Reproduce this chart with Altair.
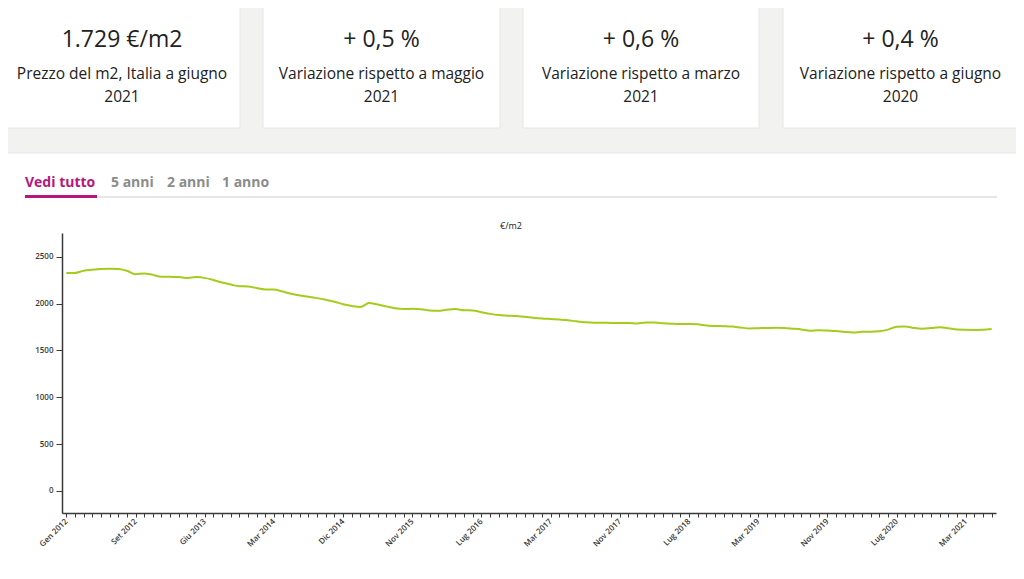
import altair as alt
import pandas as pd

# ---------------- data ----------------
prices = [
    2326, 2326, 2350, 2360, 2368, 2372, 2368, 2350, 2312, 2322,
    2306, 2286, 2285, 2284, 2273, 2283, 2274, 2251, 2224, 2203,
    2185, 2183, 2165, 2151, 2150, 2128, 2105, 2086, 2073, 2058,
    2040, 2020, 1993, 1975, 1963, 2005, 1990, 1970, 1950, 1942,
    1944, 1939, 1926, 1923, 1935, 1941, 1929, 1926, 1908, 1890,
    1877, 1871, 1866, 1858, 1849, 1841, 1835, 1829, 1822, 1810,
    1800, 1795, 1795, 1793, 1792, 1792, 1788, 1797, 1798, 1789,
    1784, 1781, 1781, 1778, 1766, 1761, 1758, 1754, 1744, 1735,
    1737, 1739, 1741, 1739, 1732, 1724, 1710, 1715, 1712, 1708,
    1697, 1691, 1698, 1699, 1705, 1722, 1752, 1755, 1740, 1732,
    1739, 1747, 1737, 1722, 1720, 1719, 1720, 1729,
]
tick_labels = [
    "Gen 2012", "Set 2012", "Giu 2013", "Mar 2014", "Dic 2014", "Nov 2015",
    "Lug 2016", "Mar 2017", "Nov 2017", "Lug 2018", "Mar 2019", "Nov 2019",
    "Lug 2020", "Mar 2021",
]
label_every = 8
y_ticks = [0, 500, 1000, 1500, 2000, 2500]

kpi_values = ["1.729 €/m2", "+ 0,5 %", "+ 0,6 %", "+ 0,4 %"]
kpi_line1 = [
    "Prezzo del m2, Italia a giugno",
    "Variazione rispetto a maggio",
    "Variazione rispetto a marzo",
    "Variazione rispetto a giugno",
]
kpi_line2 = ["2021", "2021", "2021", "2020"]
tabs = ["Vedi tutto", "5 anni", "2 anni", "1 anno"]
unit_title = "€/m2"

df = pd.DataFrame({"idx": list(range(len(prices))), "price": prices})

# ---------------- style ----------------
FONT = "Open Sans"
BG = "#f2f2f0"
CARD_STROKE = "#e6e6e3"
GREEN = "#a4cc1a"
MAGENTA = "#b8167c"
TAB_GRAY = "#8c8c8c"
TEXT = "#222222"
AXIS = "#3a3a3a"

W, H = 934, 280  # plot area


def box(x0, x1, y0, y1, fill, stroke=None):
    kw = dict(fill=fill)
    if stroke:
        kw.update(stroke=stroke, strokeWidth=1)
    return alt.Chart(alt.Data(values=[{"k": 0}])).mark_rect(**kw).encode(
        x=alt.value(x0), x2=alt.value(x1), y=alt.value(y0), y2=alt.value(y1)
    )


def label(txt, x, y, size, color, weight="normal", align="center"):
    return alt.Chart(alt.Data(values=[{"t": txt}])).mark_text(
        font=FONT, fontSize=size, color=color, fontWeight=weight,
        align=align, baseline="middle",
    ).encode(x=alt.value(x), y=alt.value(y), text="t:N")


layers = []
# KPI cards
card_x = [(-58, 178), (201, 438), (461, 697), (721, 956)]
for i, (x0, x1) in enumerate(card_x):
    cx = (x0 + x1) / 2
    layers.append(box(x0, x1, -226, -105, "white", CARD_STROKE))
    layers.append(label(kpi_values[i], cx, -193, 23, TEXT))
    layers.append(label(kpi_line1[i], cx, -159, 15.5, TEXT))
    layers.append(label(kpi_line2[i], cx, -136, 15.5, TEXT))

# chart panel
layers.append(box(-58, 957, -80, 345, "white", CARD_STROKE))
# tabs
tab_x = [-37, 49, 105, 160]
for i, t in enumerate(tabs):
    layers.append(label(t, tab_x[i], -50, 14, MAGENTA if i == 0 else TAB_GRAY,
                        weight="bold", align="left"))
layers.append(box(35, 935, -37, -35, "#e6e6e4"))
layers.append(box(-37, 35, -38, -35, MAGENTA))
layers.append(label(unit_title, 449, -7, 9, TEXT))

labels_js = "[" + ",".join("'%s'" % t for t in tick_labels) + "]"
label_expr = (
    "datum.value %% %d === 0 ? %s[datum.value / %d] : ''"
    % (label_every, labels_js, label_every)
)

line = alt.Chart(df).mark_line(color=GREEN, strokeWidth=2, interpolate="monotone").encode(
    x=alt.X(
        "idx:Q",
        scale=alt.Scale(domain=[-0.5, len(prices) - 0.5], nice=False, zero=False),
        axis=alt.Axis(
            title=None, values=list(range(len(prices))), labelExpr=label_expr,
            labelAngle=-45, labelAlign="right", labelBaseline="middle",
            labelOverlap=False, labelFlush=False, labelBound=False,
            labelFont=FONT, labelFontSize=8, labelFontWeight=600, labelColor=AXIS,
            labelPadding=3, tickSize=4, tickColor=AXIS, domainColor=AXIS,
            domainWidth=1.5, grid=False, zindex=1,
        ),
    ),
    y=alt.Y(
        "price:Q",
        scale=alt.Scale(domain=[-235, 2753], nice=False, zero=False),
        axis=alt.Axis(
            title=None, values=y_ticks, format="d", labelFont=FONT, labelFontSize=8,
            labelFontWeight=600, labelColor=AXIS, labelPadding=3, tickSize=6,
            tickColor=AXIS, domainColor=AXIS, domainWidth=1.5, grid=False,
            zindex=1, labelFlush=False,
        ),
    ),
)
layers.append(line)

chart = alt.layer(*layers).properties(
    width=W,
    height=H,
    background=BG,
    padding={"left": 54, "top": 225, "right": 20, "bottom": 58},
    autosize=alt.AutoSizeParams(type="none"),
).configure_view(stroke=None)

chart.save("out.html", embed_options={"renderer": "svg", "actions": False})
